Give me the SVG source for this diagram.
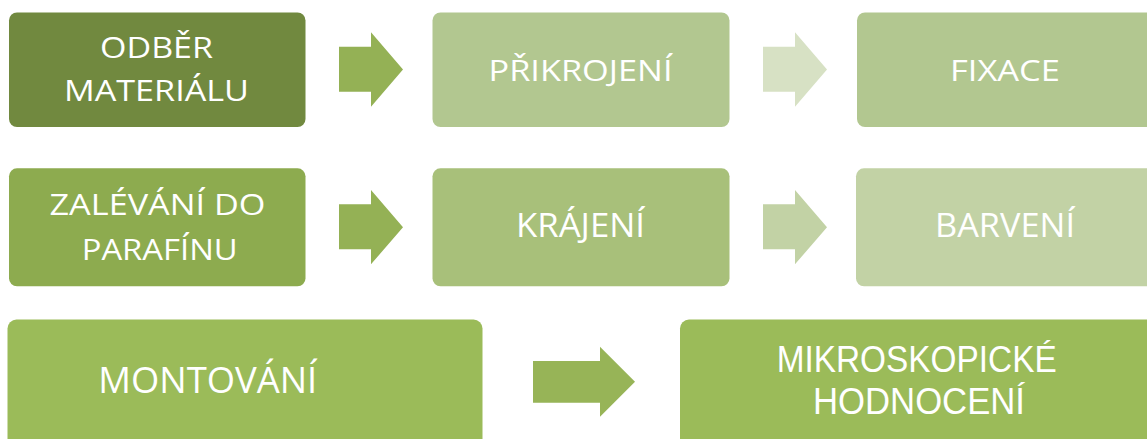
<svg xmlns="http://www.w3.org/2000/svg" width="1147" height="439" viewBox="0 0 1147 439">
<style>
.t{font-family:"Open Sans","Liberation Sans",Arial,sans-serif;fill:#ffffff;text-anchor:middle}
.s29{font-size:29px}
.s32{font-size:32.5px}
.s38{font-size:37px}
.s36{font-family:"Liberation Sans",Arial,sans-serif;font-size:36.5px}
</style>
<rect width="1147" height="439" fill="#ffffff"/>
<g id="connectors">
<polygon points="339,46.7 371,46.7 371,32.3 403,69.5 371,106.7 371,91.7 339,91.7" fill="#94b155"/>
<polygon points="763,46.7 795,46.7 795,32.3 827,69.5 795,106.7 795,91.7 763,91.7" fill="#d7e1c4"/>
<polygon points="339,204.3 371,204.3 371,190 403,227.2 371,264.3 371,249.3 339,249.3" fill="#94b155"/>
<polygon points="763,204.3 795,204.3 795,190 827,227.2 795,264.3 795,249.3 763,249.3" fill="#c2d2a5"/>
<polygon points="533,361 600,361 600,346.7 635,381.7 600,416.7 600,402.7 533,402.7" fill="#97b457"/>
</g>
<g id="n1"><rect x="9" y="12.5" width="296.5" height="114.5" rx="8" fill="#71893f"/>
<text class="t s29" x="156.5" y="58.3" textLength="113" lengthAdjust="spacingAndGlyphs">ODBĚR</text>
<text class="t s29" x="156.5" y="100.5" textLength="185" lengthAdjust="spacingAndGlyphs">MATERIÁLU</text></g>
<g id="n2"><rect x="432.5" y="12.5" width="297" height="114.5" rx="8" fill="#b2c790"/>
<text class="t s29" x="580.5" y="81" textLength="184" lengthAdjust="spacingAndGlyphs">PŘIKROJENÍ</text></g>
<g id="n3"><rect x="857" y="12.5" width="297" height="114.5" rx="8" fill="#b2c790"/>
<text class="t s29" x="1005" y="81" textLength="110" lengthAdjust="spacingAndGlyphs">FIXACE</text></g>
<g id="n4"><rect x="9" y="168.3" width="296.5" height="118" rx="8" fill="#8dab4f"/>
<text class="t s29" x="157.5" y="215" textLength="216" lengthAdjust="spacingAndGlyphs">ZALÉVÁNÍ DO</text>
<text class="t s29" x="159.7" y="260" textLength="156" lengthAdjust="spacingAndGlyphs">PARAFÍNU</text></g>
<g id="n5"><rect x="432.5" y="168.3" width="297" height="118" rx="8" fill="#a8c07a"/>
<text class="t s32" x="580.5" y="237.3" textLength="129" lengthAdjust="spacingAndGlyphs">KRÁJENÍ</text></g>
<g id="n6"><rect x="856" y="168.3" width="298" height="118" rx="8" fill="#c2d2a5"/>
<text class="t s32" x="1005" y="237.3" textLength="140" lengthAdjust="spacingAndGlyphs">BARVENÍ</text></g>
<g id="n7"><rect x="7.5" y="319.5" width="475" height="130" rx="9" fill="#9bbb59"/>
<text class="t s38" x="207.8" y="393.3" textLength="219" lengthAdjust="spacingAndGlyphs">MONTOVÁNÍ</text></g>
<g id="n8"><rect x="680" y="319.5" width="480" height="130" rx="9" fill="#9bbb59"/>
<text class="t s36" x="916.7" y="372.3" textLength="280" lengthAdjust="spacingAndGlyphs">MIKROSKOPICKÉ</text>
<text class="t s36" x="919" y="413.5" textLength="212" lengthAdjust="spacingAndGlyphs">HODNOCENÍ</text></g>
</svg>
